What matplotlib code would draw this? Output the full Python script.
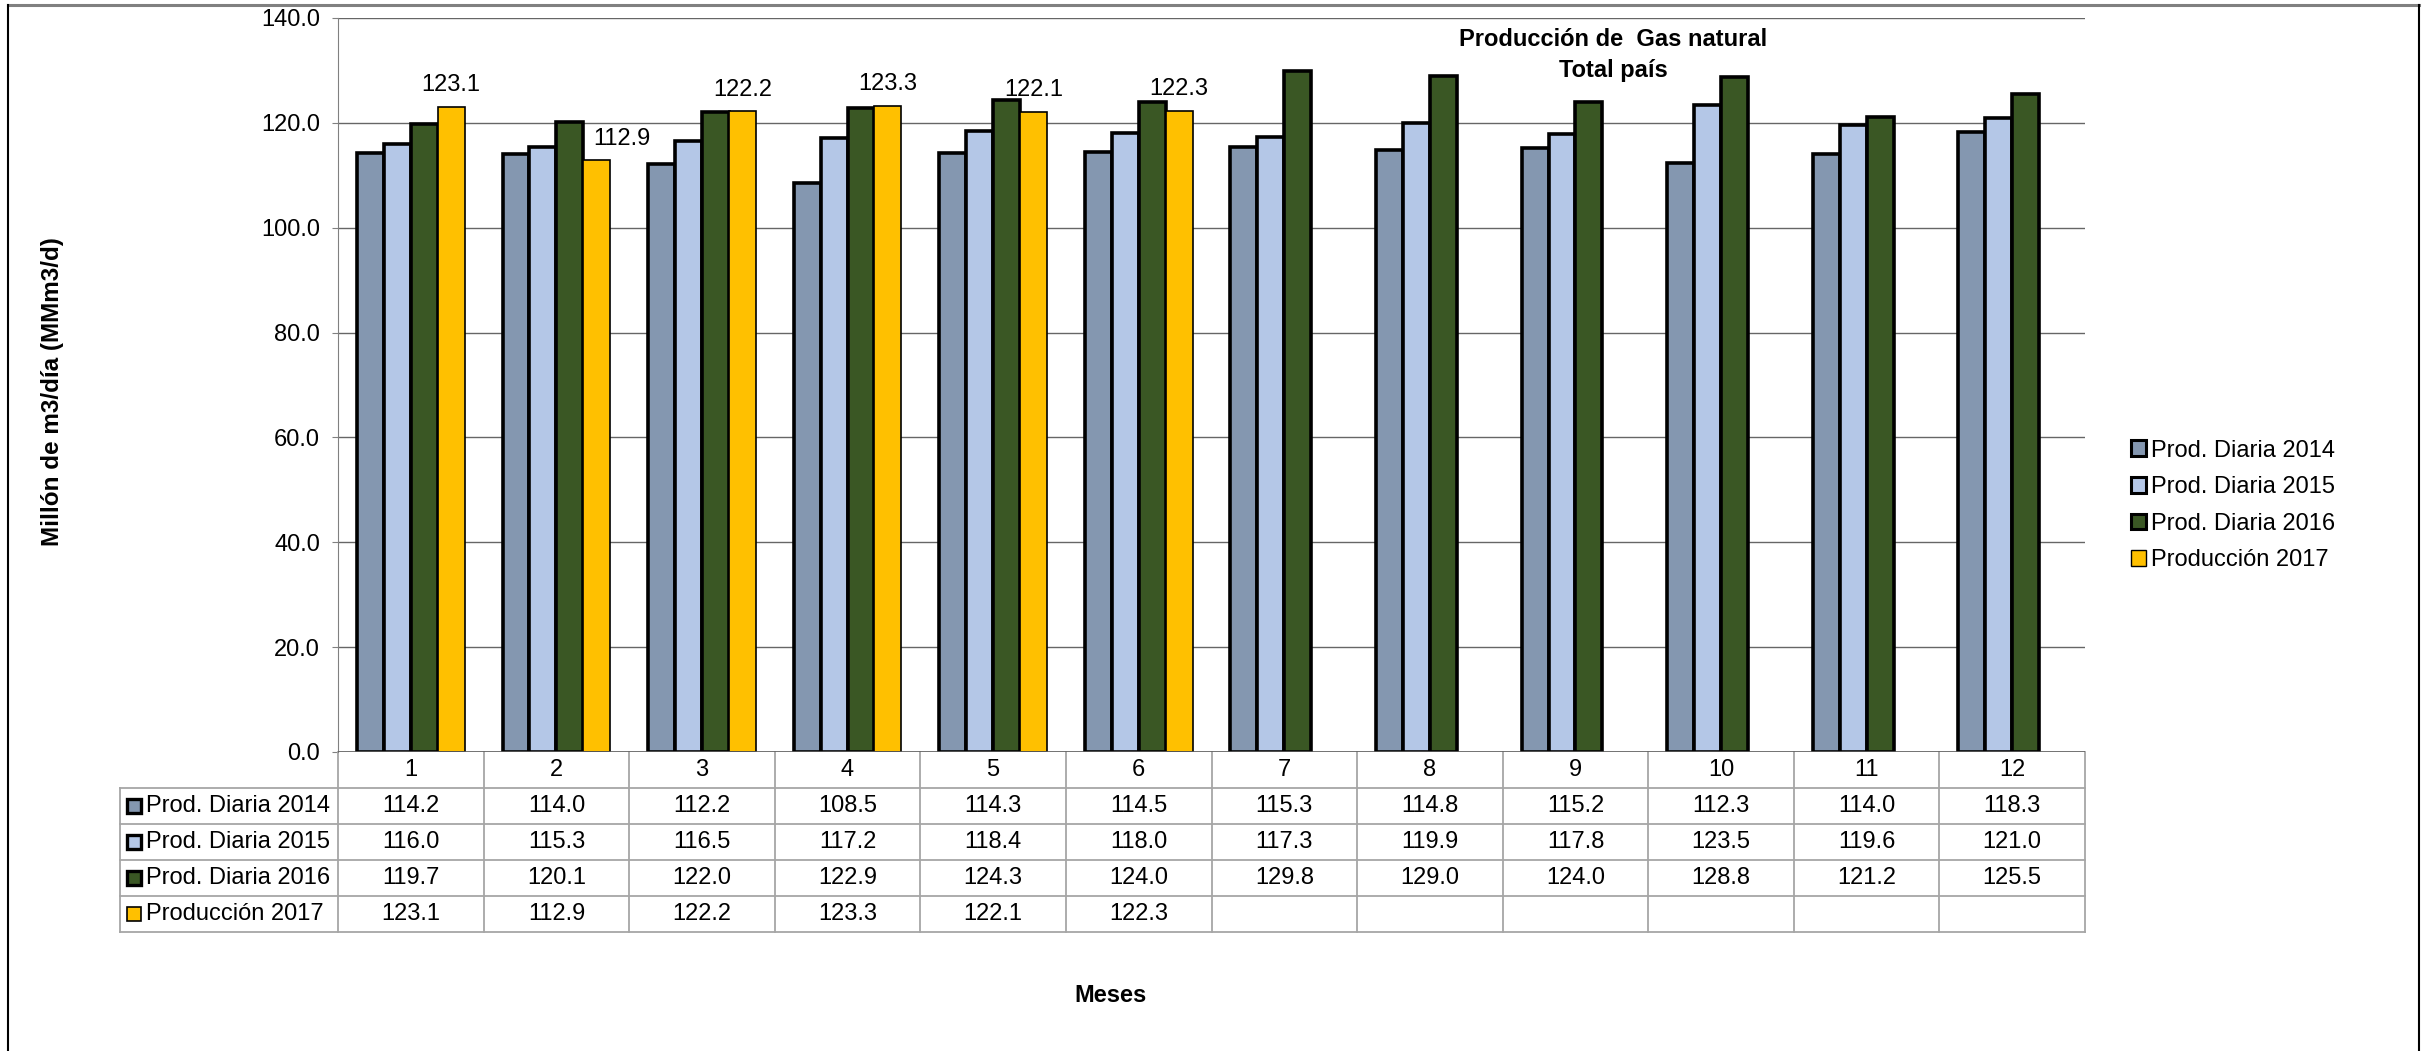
import numpy as np
import matplotlib
matplotlib.use('Agg')
from matplotlib import pyplot as plt
from matplotlib.lines import Line2D
from matplotlib.patches import Patch
import matplotlib.transforms as mtransforms

plt.rcParams['font.family'] = ['Liberation Sans', 'DejaVu Sans']

# data
months = ['1', '2', '3', '4', '5', '6', '7', '8', '9', '10', '11', '12']
prod_2014 = [114.2, 114.0, 112.2, 108.5, 114.3, 114.5, 115.3, 114.8, 115.2, 112.3, 114.0, 118.3]
prod_2015 = [116.0, 115.3, 116.5, 117.2, 118.4, 118.0, 117.3, 119.9, 117.8, 123.5, 119.6, 121.0]
prod_2016 = [119.7, 120.1, 122.0, 122.9, 124.3, 124.0, 129.8, 129.0, 124.0, 128.8, 121.2, 125.5]
prod_2017 = [123.1, 112.9, 122.2, 123.3, 122.1, 122.3]
series_names = ['Prod. Diaria 2014', 'Prod. Diaria 2015', 'Prod. Diaria 2016', 'Producción 2017']
colors = ['#8497B0', '#B4C7E7', '#3A5724', '#FFC000']

FS = 17
W, H = 2431, 1051
fig = plt.figure(figsize=(W / 100, H / 100), dpi=100)
ax = fig.add_axes([338 / W, 1 - 752 / H, (2085 - 338) / W, (752 - 18) / H])

x = np.arange(len(months))
bw = 0.185
all_series = [prod_2014, prod_2015, prod_2016, prod_2017]
edge_w = [2.6, 2.6, 2.6, 1.2]
for i, vals in enumerate(all_series):
    xs = x[:len(vals)] + (i - 1.5) * bw
    ax.bar(xs, vals, width=bw, color=colors[i], edgecolor='black', linewidth=edge_w[i], zorder=3)

# data labels for 2017
for j, v in enumerate(prod_2017):
    dx = 18 if j == 1 else 0
    ax.annotate(f'{v:.1f}', (x[j] + 1.5 * bw, v), xytext=(dx, 7.5), textcoords='offset points',
                ha='center', va='bottom', fontsize=FS)

ax.set_xlim(-0.5, 11.5)
ax.set_ylim(0, 140)
ax.set_yticks(np.arange(0, 141, 20))
ax.set_yticklabels([f'{t:.1f}' for t in np.arange(0, 141, 20)], fontsize=FS)
ax.tick_params(axis='y', length=4.5, color='#808080', pad=8.5)
ax.set_xticks([])
ax.grid(axis='y', color='#666666', linewidth=1, zorder=0)
for s in ['top', 'right', 'bottom']:
    ax.spines[s].set_visible(False)
ax.spines['left'].set_color('#808080')
ax.axhline(0, color='#606060', linewidth=1.2, zorder=4)

# data table below the axis
tr = mtransforms.blended_transform_factory(ax.transData, ax.transAxes)
row_h = 36 / 734
grid_c = '#A6A6A6'
lbl_left = -2.0
for k in range(13):
    ax.plot([k - 0.5, k - 0.5], [0, -5 * row_h], transform=tr, color=grid_c, lw=1.3, clip_on=False)
ax.plot([lbl_left, lbl_left], [-row_h, -5 * row_h], transform=tr, color=grid_c, lw=1.3, clip_on=False)
for r in range(1, 6):
    ax.plot([lbl_left, 11.5], [-r * row_h, -r * row_h], transform=tr, color=grid_c, lw=1.3, clip_on=False)

for j, m in enumerate(months):
    ax.text(x[j], -0.5 * row_h, m, transform=tr, ha='center', va='center', fontsize=FS)
for i, vals in enumerate(all_series):
    yc = -(i + 1.5) * row_h
    for j, v in enumerate(vals):
        ax.text(x[j], yc, f'{v:.1f}', transform=tr, ha='center', va='center', fontsize=FS)
    ax.plot([-1.901], [yc], transform=tr, marker='s', ms=10, mfc=colors[i], mec='black',
            mew=2.4 if i < 3 else 1.2, clip_on=False)
    ax.text(-1.822, yc, series_names[i], transform=tr, ha='left', va='center', fontsize=FS)

# legend on the right
handles = [Patch(facecolor=colors[i], edgecolor='black', linewidth=2.2 if i < 3 else 1) for i in range(4)]
fig.legend(handles, series_names, loc='center left', bbox_to_anchor=(2131 / W, 1 - 505.5 / H),
           frameon=False, fontsize=FS, handlelength=0.65, handleheight=0.65, handletextpad=0.2,
           labelspacing=0.62, borderpad=0, borderaxespad=0)

fig.text(1613 / W, 1 - 39 / H, 'Producción de  Gas natural', ha='center', va='center',
         fontsize=FS, fontweight='bold')
fig.text(1613 / W, 1 - 70 / H, 'Total país', ha='center', va='center', fontsize=FS, fontweight='bold')
fig.text(53 / W, 1 - 392 / H, 'Millón de m3/día (MMm3/d)', rotation=90, ha='center', va='center',
         fontsize=17.5, fontweight='bold')
fig.text(1110 / W, 1 - 995 / H, 'Meses', ha='center', va='center', fontsize=FS, fontweight='bold')

# outer chart frame
fig.add_artist(Line2D([8 / W, 2419 / W], [1 - 5 / H, 1 - 5 / H], color='#808080', lw=2.2))
fig.add_artist(Line2D([8 / W, 8 / W], [0, 1 - 5 / H], color='black', lw=1.5))
fig.add_artist(Line2D([2419 / W, 2419 / W], [0, 1 - 5 / H], color='black', lw=1.5))

fig.savefig('out.png', dpi=100)
